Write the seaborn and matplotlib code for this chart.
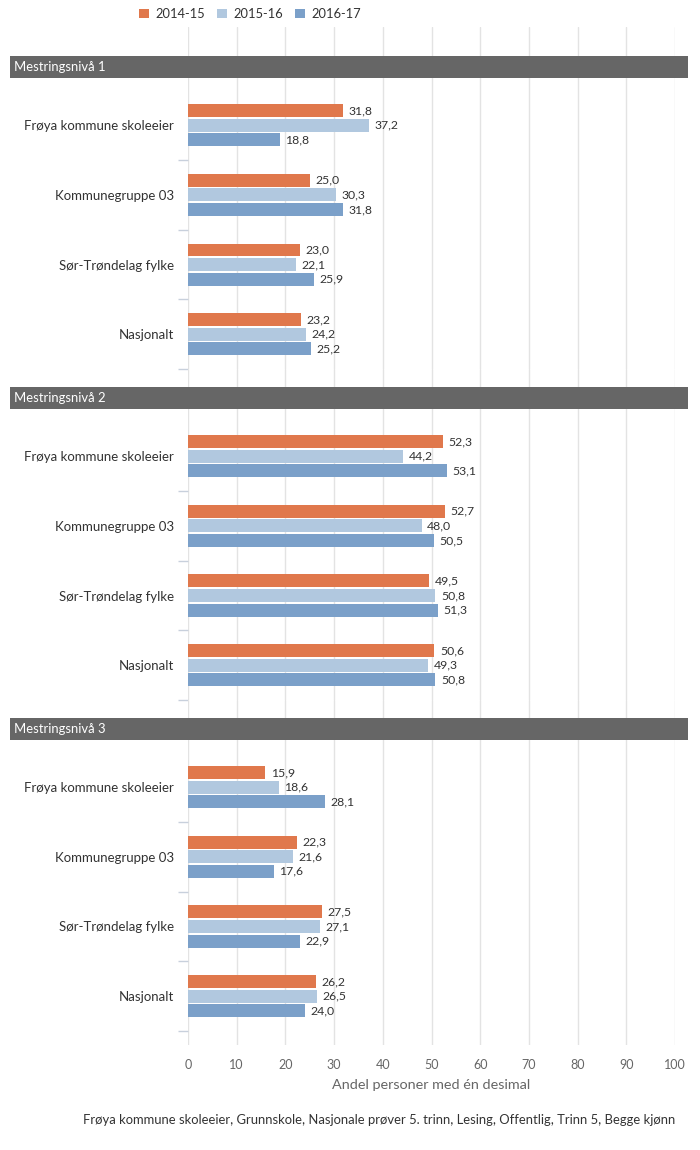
import numpy as np
import pandas as pd
import matplotlib
matplotlib.use("Agg")
import matplotlib.pyplot as plt
import matplotlib.transforms as mtransforms
from matplotlib.patches import Patch, Rectangle
import seaborn as sns

# data
years = ["2014-15", "2015-16", "2016-17"]
regions = ["Frøya kommune skoleeier", "Kommunegruppe 03", "Sør-Trøndelag fylke", "Nasjonalt"]
levels = ["Mestringsnivå 1", "Mestringsnivå 2", "Mestringsnivå 3"]

niva1 = {"2014-15": [31.8, 25.0, 23.0, 23.2],
         "2015-16": [37.2, 30.3, 22.1, 24.2],
         "2016-17": [18.8, 31.8, 25.9, 25.2]}
niva2 = {"2014-15": [52.3, 52.7, 49.5, 50.6],
         "2015-16": [44.2, 48.0, 50.8, 49.3],
         "2016-17": [53.1, 50.5, 51.3, 50.8]}
niva3 = {"2014-15": [15.9, 22.3, 27.5, 26.2],
         "2015-16": [18.6, 21.6, 27.1, 26.5],
         "2016-17": [28.1, 17.6, 22.9, 24.0]}

x_ticks = [0, 10, 20, 30, 40, 50, 60, 70, 80, 90, 100]
x_label = "Andel personer med én desimal"
footer = "Frøya kommune skoleeier, Grunnskole, Nasjonale prøver 5. trinn, Lesing, Offentlig, Trinn 5, Begge kjønn"

colors = ["#E0784C", "#B1C8DF", "#7BA0C9"]

sns.set_style("white")
plt.rcParams["font.family"] = ["Lato", "DejaVu Sans"]

W, H = 700, 1150
fig = plt.figure(figsize=(W / 100, H / 100), dpi=100)

# layout in pixels
x0, x1 = 188, 675
slot = 69.67
ylims = [(-1.41, 3.5), (-1.25, 3.5), (-1.25, 3.7)]
top = 27

axes = []
for k, (lvl, d) in enumerate(zip(levels, [niva1, niva2, niva3])):
    lo, hi = ylims[k]
    h = (hi - lo) * slot
    ax = fig.add_axes([x0 / W, 1 - (top + h) / H, (x1 - x0) / W, h / H])
    top += h

    df = pd.DataFrame([(r, y, d[y][i]) for y in years for i, r in enumerate(regions)],
                      columns=["region", "year", "value"])
    sns.barplot(data=df, y="region", x="value", hue="year", order=regions,
                hue_order=years, palette=colors, saturation=1, orient="h", width=0.63,
                gap=0.12, linewidth=0, legend=False, ax=ax, zorder=3)

    for cont in ax.containers:
        ax.bar_label(cont, labels=[f"{v:.1f}".replace(".", ",") for v in cont.datavalues],
                     padding=4, fontsize=8.8, color="#333333")

    ax.set_xlim(0, 100)
    ax.set_ylim(hi, lo)
    ax.set_xticks(x_ticks)
    ax.grid(axis="x", color="#e3e3e3", lw=1, zorder=0)
    ax.grid(axis="y", visible=False)
    for s in ax.spines.values():
        s.set_visible(False)
    ax.set_ylabel("")
    ax.set_xlabel("")
    ax.tick_params(axis="y", which="major", left=True, length=0, pad=10,
                   labelsize=9.5, labelcolor="#333333")
    ax.set_yticks([0.5, 1.5, 2.5, 3.5], minor=True)
    ax.tick_params(axis="y", which="minor", left=True, length=7.5, width=1, color="#c8d0dc")
    if k < 2:
        ax.tick_params(axis="x", length=0, labelbottom=False)
    else:
        ax.tick_params(axis="x", length=0, pad=10, labelsize=9, labelcolor="#666666")
        ax.set_xlabel(x_label, fontsize=10.4, color="#666666", labelpad=6)

    # section header band
    tr = mtransforms.blended_transform_factory(fig.transFigure, ax.transData)
    ax.add_patch(Rectangle((10 / W, -0.99), (688 - 10) / W, 0.31, transform=tr,
                           facecolor="#666666", edgecolor="none", clip_on=False, zorder=5))
    ax.text(14 / W, -0.835, lvl, transform=tr, color="white", fontsize=9.4,
            va="center", ha="left", zorder=6)
    axes.append(ax)

handles = [Patch(facecolor=c, edgecolor="none") for c in colors]
fig.legend(handles, years, loc="center", bbox_to_anchor=(250 / W, 1 - 14 / H), ncol=3,
           frameon=False, fontsize=9.3, handlelength=0.8, handleheight=0.8,
           handletextpad=0.5, columnspacing=0.9, labelcolor="#333333")

fig.text(675 / W, 1 - 1120 / H, footer, ha="right", va="center", fontsize=9.4, color="#333333")

fig.savefig("out.png", dpi=100)
